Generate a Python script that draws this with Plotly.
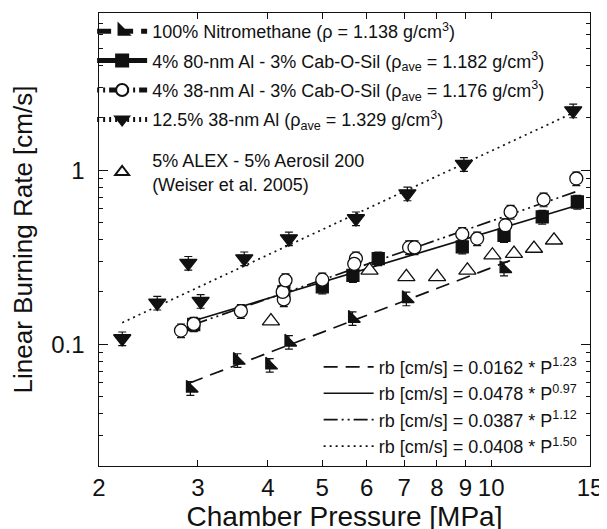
import numpy as np
import plotly.graph_objects as go

# ---------------- data ----------------
nm_p = [2.91, 3.53, 4.03, 4.36, 5.66, 7.06, 10.54]
nm_r = [0.056, 0.081, 0.076, 0.103, 0.141, 0.183, 0.272]

al80_p = [2.95, 4.27, 5.0, 5.67, 6.29, 8.88, 10.54, 12.33, 14.24]
al80_r = [0.130, 0.200, 0.214, 0.249, 0.311, 0.363, 0.423, 0.539, 0.657]

al38_p = [2.80, 2.95, 3.58, 4.27, 4.25, 4.30, 5.0, 5.74, 5.70, 7.14, 7.30,
          8.88, 9.44, 10.6, 10.83, 12.4, 14.18]
al38_r = [0.120, 0.131, 0.155, 0.181, 0.200, 0.233, 0.235, 0.311, 0.290, 0.360, 0.360,
          0.429, 0.405, 0.483, 0.576, 0.678, 0.896]

al125_p = [2.20, 2.54, 2.885, 3.035, 3.63, 4.36, 5.74, 7.09, 8.94, 14.0]
al125_r = [0.108, 0.173, 0.293, 0.177, 0.311, 0.405, 0.528, 0.734, 1.083, 2.20]

alex_p = [4.05, 6.07, 7.06, 8.01, 9.07, 10.05, 10.98, 11.92, 12.94]
alex_r = [0.136, 0.266, 0.244, 0.244, 0.266, 0.325, 0.332, 0.355, 0.396]

# power-law fits rb = a * P^n shown on the chart
fit_a = [0.0162, 0.0478, 0.0387, 0.0408]
fit_n = [1.23, 0.97, 1.12, 1.50]
fit_pmin = [2.90, 2.95, 2.95, 2.20]
fit_pmax = [10.8, 14.3, 14.3, 14.0]
fit_dash = ["14px,8px", "solid", "14px,4px,2px,4px,2px,4px", "2px,4px"]
fit_names = ["rb [cm/s] = 0.0162 * P<sup>1.23</sup>",
             "rb [cm/s] = 0.0478 * P<sup>0.97</sup>",
             "rb [cm/s] = 0.0387 * P<sup>1.12</sup>",
             "rb [cm/s] = 0.0408 * P<sup>1.50</sup>"]

x_ticks = [2, 3, 4, 5, 6, 7, 8, 9, 10, 15]
x_ticktext = ["2", "3", "4", "5", "6", "7", "8", "9", "10", "15"]
y_ticks = [0.1, 1]
y_ticktext = ["0.1\u00a0\u200a", "1\u00a0\u200a"]
y_minor = [0.02, 0.03, 0.04, 0.05, 0.06, 0.07, 0.08, 0.09,
           0.2, 0.3, 0.4, 0.5, 0.6, 0.7, 0.8, 0.9,
           2, 3, 4, 5, 6, 7, 8]

x_title = "Chamber Pressure [MPa]"
y_title = "Linear Burning Rate [cm/s]"

FONT = "Liberation Sans, Arial, sans-serif"
BLK = "#111111"

fig = go.Figure()

# fit lines (bottom-right legend)
for a, n, p0, p1, d, nm in zip(fit_a, fit_n, fit_pmin, fit_pmax, fit_dash, fit_names):
    xs = [p0, p1]
    ys = [a * p ** n for p in xs]
    fig.add_trace(go.Scatter(x=xs, y=ys, mode="lines",
                             line=dict(color=BLK, width=1.7, dash=d),
                             name=nm, legend="legend2",
                             hoverinfo="skip"))

err = dict(type="percent", value=9, color=BLK, thickness=1.2, width=4)

def pts(x, y, symbol, size, fill, line_w=1.3, error=True):
    fig.add_trace(go.Scatter(
        x=x, y=y, mode="markers", showlegend=False,
        marker=dict(symbol=symbol, size=size, color=fill,
                    line=dict(color=BLK, width=line_w)),
        error_y=err if error else None))

pts(nm_p, nm_r, "triangle-sw", 13, BLK)
pts(al80_p, al80_r, "square", 12, BLK)
pts(al38_p, al38_r, "circle", 13, "white")
pts(al125_p, al125_r, "triangle-down", 15, BLK)
pts(alex_p, alex_r, "triangle-up", 15, "white", error=False)

# top-left legend entries
leg_items = [
    ("100% Nitromethane (ρ = 1.138 g/cm<sup>3</sup>)", "14px,8px", "triangle-sw", BLK),
    ("4% 80-nm Al - 3% Cab-O-Sil (ρ<sub>ave</sub> = 1.182 g/cm<sup>3</sup>)", "solid", "square", BLK),
    ("4% 38-nm Al - 3% Cab-O-Sil (ρ<sub>ave</sub> = 1.176 g/cm<sup>3</sup>)", "2px,4px,2px,4px,14px,4px", "circle", "white"),
    ("12.5% 38-nm Al (ρ<sub>ave</sub> = 1.329 g/cm<sup>3</sup>)", "2px,4px", "triangle-down", BLK),
]
for nm, d, sym, fc in leg_items:
    fig.add_trace(go.Scatter(x=[None], y=[None], mode="lines+markers", name=nm,
                             legend="legend", legendgroup=nm,
                             line=dict(color=BLK, width=1.4, dash=d),
                             marker=dict(symbol=sym, size=12, color=fc,
                                         line=dict(color=BLK, width=1.3))))
fig.add_trace(go.Scatter(x=[None], y=[None], mode="markers",
                         name="5% ALEX - 5% Aerosil 200<br>(Weiser et al. 2005)",
                         legend="legend3",
                         marker=dict(symbol="triangle-up", size=13, color="white",
                                     line=dict(color=BLK, width=1.2))))

fig.update_layout(
    template="none",
    width=607, height=529,
    margin=dict(l=91, r=25, t=5, b=71, pad=0, autoexpand=False),
    paper_bgcolor="white", plot_bgcolor="white",
    font=dict(family=FONT, color=BLK),
    legend=dict(x=-0.014, y=1.0, xanchor="left", yanchor="top",
                bgcolor="rgba(0,0,0,0)", font=dict(size=18, family=FONT),
                itemwidth=50, tracegroupgap=3, itemsizing="constant"),
    legend2=dict(x=0.985, y=0.003, xanchor="right", yanchor="bottom",
                 bgcolor="rgba(0,0,0,0)", font=dict(size=18, family=FONT),
                 itemwidth=50),
    legend3=dict(x=-0.014, y=0.715, xanchor="left", yanchor="top",
                 bgcolor="rgba(0,0,0,0)", font=dict(size=18, family=FONT),
                 itemwidth=50, itemsizing="constant"),
    xaxis=dict(type="log", range=[np.log10(2), np.log10(15)], automargin=False,
               tickvals=x_ticks, ticktext=x_ticktext,
               ticks="inside", ticklen=6, tickcolor=BLK,
               showline=True, linecolor=BLK, linewidth=1, mirror="allticks",
               showgrid=False, zeroline=False,
               tickfont=dict(size=24, family=FONT),
               title=dict(text=x_title, font=dict(size=28, family=FONT), standoff=2)),
    yaxis=dict(type="log", range=[np.log10(0.02), np.log10(8)], automargin=False,
               tickvals=y_ticks, ticktext=y_ticktext,
               ticks="inside", ticklen=9, tickcolor=BLK,
               minor=dict(tickvals=y_minor, ticks="inside", ticklen=4, tickcolor=BLK,
                          showgrid=False),
               showline=True, linecolor=BLK, linewidth=1, mirror="allticks",
               showgrid=False, zeroline=False,
               tickfont=dict(size=24, family=FONT),
               title=dict(text=y_title, font=dict(size=26, family=FONT), standoff=16)),
)

fig.write_html("out.html")
